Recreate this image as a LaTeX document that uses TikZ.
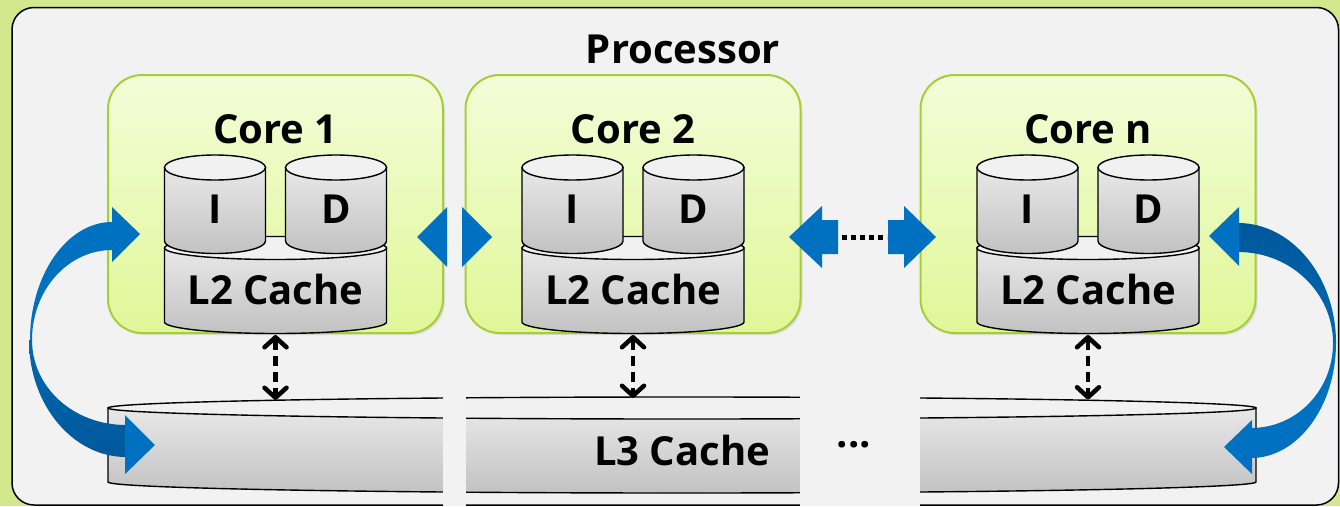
\documentclass[tikz,border=0pt]{standalone}
\usepackage{fontspec}
\setmainfont{Open Sans}
\usetikzlibrary{arrows.meta,shadows}

\definecolor{outerbg}{RGB}{211,232,140}
\definecolor{panel}{RGB}{242,242,242}
\definecolor{coretop}{RGB}{243,253,216}
\definecolor{corebot}{RGB}{224,247,152}
\definecolor{coreline}{RGB}{166,206,57}
\definecolor{cyltop}{RGB}{232,232,232}
\definecolor{cylbot}{RGB}{194,194,194}
\definecolor{cylcap}{RGB}{241,241,241}
\definecolor{blueA}{RGB}{0,112,192}
\definecolor{blueB}{RGB}{0,88,155}
\definecolor{blueC}{RGB}{0,104,178}

% upright cylinder: left x, right x, top-centre y, bottom-centre y, y radius
\newcommand\cylinderbody[5]{%
  \pgfmathsetmacro\cylrx{((#2)-(#1))/2}%
  \pgfmathsetmacro\cylcx{((#1)+(#2))/2}%
  \shadedraw[cylshade] (#1,#3) -- (#1,#4)
     arc[start angle=180,end angle=360,x radius=\cylrx pt,y radius=#5pt]
     -- (#2,#3) -- cycle;
  \filldraw[cylcapstyle] (\cylcx,#3) ellipse[x radius=\cylrx pt,y radius=#5pt];
}

% one core: name, centre x, title
\newcommand\core[3]{%
  \pgfmathsetmacro\cxa{#2-111}%
  \pgfmathsetmacro\cxb{#2-10}%
  \pgfmathsetmacro\cxc{#2+10}%
  \pgfmathsetmacro\cxd{#2+111}%
  \pgfmathsetmacro\cxi{#2-60.5}%
  \pgfmathsetmacro\cxdd{#2+60.5}%
  \node[corebox] (#1) at (#2,204) {};
  \node[lbl] (#1-title) at (#2,143) {#3};
  \cylinderbody{\cxa}{\cxd}{248}{322}{11.5}
  \cylinderbody{\cxa}{\cxb}{167.5}{241}{12.5}
  \cylinderbody{\cxc}{\cxd}{167.5}{241}{12.5}
  \node[lbl] (#1-i) at (\cxi,223) {I};
  \node[lbl] (#1-d) at (\cxdd,223) {D};
  \node[lbl] (#1-l2) at (#2,304) {L2 Cache};
  \coordinate (#1-l2bot) at (#2,335);
}

\begin{document}
\begin{tikzpicture}[x=1pt,y=-1pt,
  lbl/.style={font=\bfseries\fontsize{40}{40}\selectfont, inner sep=0pt, anchor=base},
  corebox/.style={draw=coreline, line width=2pt, rounded corners=34pt,
    minimum width=335pt, minimum height=258pt, top color=coretop, bottom color=corebot,
    drop shadow={opacity=0.18, shadow xshift=2pt, shadow yshift=-2pt}},
  cylshade/.style={top color=cyltop, bottom color=cylbot, draw=black, line width=1.4pt},
  cylcapstyle/.style={fill=cylcap, draw=black, line width=1.4pt},
  linkhead/.tip={Straight Barb[length=10pt,width=22pt,line width=4.5pt,round]},
  vlink/.style={line width=4.5pt, dash pattern=on 10pt off 6pt, {linkhead}-{linkhead}},
  dots/.style={line width=5pt, dash pattern=on 5pt off 4pt}]

\useasboundingbox (0,0) rectangle (1340,506);
\fill[outerbg] (0,0) rectangle (1340,506);
\filldraw[fill=panel, draw=black, line width=1.5pt, rounded corners=22pt]
  (12,7.5) rectangle (1338.5,505);

\node[lbl] (proc) at (683,63) {Processor};

\core{c1}{275.5}{Core 1}
\core{c2}{633}{Core 2}
\core{cn}{1088}{Core n}

% shared L3 cache
\cylinderbody{108}{1256}{408}{482}{11}
\coordinate (l3-1) at (275.5,400);
\coordinate (l3-2) at (633,398);
\coordinate (l3-n) at (1088,399.5);

% gaps cut through the L3 cache
\fill[panel] (443,395.5) rectangle (466,506);
\fill[panel] (800,394.5) rectangle (920,506);

\node[lbl] (l3) at (682,465) {L3 Cache};
\node[lbl] (l3dots) at (854,447) {...};

% links between neighbouring cores
\fill[blueA] (417,237) -- (447,207) -- (447,267) -- cycle;
\fill[blueA] (492,237) -- (462,207) -- (462,267) -- cycle;
\fill[blueA] (789,237) -- (822,206) -- (822,220) -- (838,220) -- (838,254)
  -- (822,254) -- (822,268) -- cycle;
\fill[blueA] (936,237) -- (904,206) -- (904,220) -- (888,220) -- (888,254)
  -- (904,254) -- (904,268) -- cycle;
\coordinate (dots-a) at (842,237);
\coordinate (dots-b) at (887,237);
\draw[dots] (dots-a) -- (dots-b);

% curved link: core 1 <-> L3
\fill[blueA] (30,340) .. controls (30,275) and (67,222) .. (112,222) -- (112,250)
  .. controls (68,250) and (32,290) .. (32,340) -- cycle;
\fill[blueA] (112,207) -- (140,234) -- (112,262) -- cycle;
\shade[top color=blueC, bottom color=blueB] (29,340) .. controls (29,405) and (73,457) .. (126,457)
  -- (126,425) .. controls (73,425) and (32,387) .. (32,340) -- cycle;
\fill[blueA] (125,415) -- (155,445) -- (125,474) -- cycle;

% curved link: core n <-> L3
\shade[top color=blueB, bottom color=blueC] (1238,223) .. controls (1292,223) and (1336,277) .. (1336,343)
  -- (1333,343) .. controls (1333,293) and (1291,252) .. (1238,252) -- cycle;
\fill[blueA] (1239,207) -- (1209,236) -- (1239,266) -- cycle;
\fill[blueA] (1336,343) .. controls (1336,406) and (1298,458) .. (1251,458) -- (1251,428)
  .. controls (1297,428) and (1333,390) .. (1333,343) -- cycle;
\fill[blueA] (1252,420) -- (1224,447) -- (1252,474) -- cycle;

% L2 <-> L3 links
\draw[vlink] (c1-l2bot) -- (l3-1);
\draw[vlink] (c2-l2bot) -- (l3-2);
\draw[vlink] (cn-l2bot) -- (l3-n);
\end{tikzpicture}
\end{document}
